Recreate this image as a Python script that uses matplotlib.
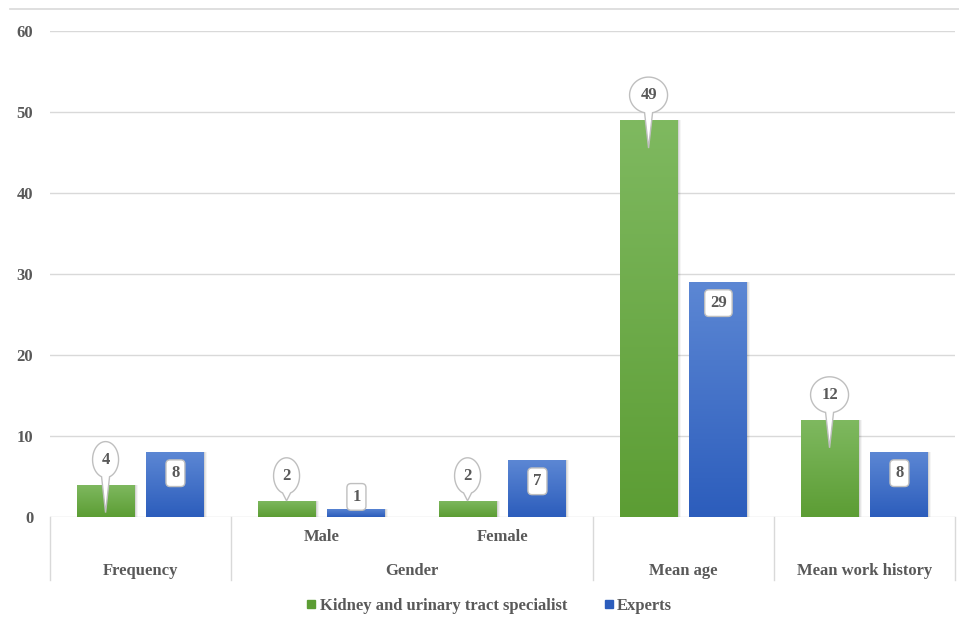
import numpy as np
import matplotlib
matplotlib.use("Agg")
import matplotlib.pyplot as plt
import matplotlib.transforms as mtransforms
from matplotlib.colors import LinearSegmentedColormap
from matplotlib.patches import Polygon, Rectangle
from matplotlib.lines import Line2D

# data
sub_labels = ["", "Male", "Female", "", ""]
top_labels = ["Frequency", "Gender", "Mean age", "Mean work history"]
top_spans = [(0, 0), (1, 2), (3, 3), (4, 4)]
specialist = [4, 2, 2, 49, 12]
experts = [8, 1, 7, 29, 8]
series_names = ["Kidney and urinary tract specialist", "Experts"]
yticks = [0, 10, 20, 30, 40, 50, 60]

GREEN_TOP, GREEN_BOT = "#7fb960", "#5c9d34"
BLUE_TOP, BLUE_BOT = "#5c87d4", "#2c5dbc"
TXT = "#595959"
GRID = "#d9d9d9"

plt.rcParams["font.family"] = ["Liberation Serif", "DejaVu Serif"]
plt.rcParams["font.weight"] = "bold"

fig = plt.figure(figsize=(9.59, 6.30), dpi=100)
W, H = 959, 630
ax_l, ax_r, ax_t, ax_b = 50, 955, 31, 517
ax = fig.add_axes([ax_l / W, 1 - ax_b / H, (ax_r - ax_l) / W, (ax_b - ax_t) / H])
axh = ax_b - ax_t

x = np.arange(len(specialist))
bw = 0.32
off = 0.193

ax.set_xlim(-0.5, len(x) - 0.5)
ax.set_ylim(0, 60)
ax.set_yticks(yticks)
ax.tick_params(axis="y", length=0, pad=12, labelsize=12, labelcolor=TXT)
ax.set_xticks([])
for s in ax.spines.values():
    s.set_visible(False)
ax.yaxis.grid(True, color=GRID, lw=1)
ax.set_axisbelow(True)


def grad_bar(xc, val, c_top, c_bot):
    cmap = LinearSegmentedColormap.from_list("g", [c_bot, c_top])
    # soft shadow to the right
    for k, al in [(3, 0.04), (2, 0.06), (1, 0.08)]:
        sh = mtransforms.ScaledTranslation(k, 0, mtransforms.IdentityTransform())
        ax.add_patch(Rectangle((xc - bw / 2, 0), bw, val, fc="#000000", alpha=al,
                               lw=0, transform=ax.transData + sh, zorder=1.5))
    rect = Rectangle((xc - bw / 2, 0), bw, val, fc="none", ec="none", zorder=2)
    ax.add_patch(rect)
    im = ax.imshow(np.linspace(0, 1, 256).reshape(-1, 1), cmap=cmap, origin="lower",
                   extent=(xc - bw / 2, xc + bw / 2, 0, val), aspect="auto", zorder=2)
    im.set_clip_path(rect)


for i in x:
    grad_bar(i - off, specialist[i], GREEN_TOP, GREEN_BOT)
    grad_bar(i + off, experts[i], BLUE_TOP, BLUE_BOT)

ax.set_xlim(-0.5, len(x) - 0.5)
ax.set_ylim(0, 60)

px_per_unit = axh / 60.0

# callout labels on green bars
for i in x:
    v = specialist[i]
    tr = mtransforms.ScaledTranslation(i - off, v, ax.transData)
    s = str(v)
    a = 13 if len(s) == 1 else 19
    b = 18
    cy = 25
    tip = -28 if v * px_per_unit > 28 else 0
    d = np.arcsin(4.0 / a)
    th = np.linspace(-np.pi / 2 + d, 3 * np.pi / 2 - d, 80)
    pts = np.column_stack([a * np.cos(th), cy + b * np.sin(th)])
    pts = np.vstack([pts, [0, tip]])
    poly = Polygon(pts, closed=True, fc="white", ec="#bfbfbf", lw=1,
                   transform=tr, zorder=5, clip_on=False)
    ax.add_patch(poly)
    ax.text(0, cy, s, transform=tr, ha="center", va="center", fontsize=12,
            color=TXT, zorder=6)

# boxed labels on blue bars
for i in x:
    v = experts[i]
    tr = mtransforms.ScaledTranslation(i + off, v, ax.transData)
    dy = -21 if v * px_per_unit > 42 else 12
    ax.text(0, dy, str(v), transform=tr, ha="center", va="center", fontsize=12,
            color=TXT, zorder=6,
            bbox=dict(boxstyle="round,pad=0.32,rounding_size=0.25", fc="white",
                      ec="#bfbfbf", lw=1))

# category axis
xt = ax.get_xaxis_transform()
for i, lab in enumerate(sub_labels):
    if lab:
        ax.text(i, -20 / axh, lab, transform=xt, ha="center", va="center",
                fontsize=12, color=TXT)
for lab, (a0, a1) in zip(top_labels, top_spans):
    ax.text((a0 + a1) / 2, -54 / axh, lab, transform=xt, ha="center", va="center",
            fontsize=12, color=TXT)
for xs in [-0.5, 0.5, 2.5, 3.5, 4.5]:
    ax.add_line(Line2D([xs, xs], [0, -63 / axh], transform=xt, color=GRID, lw=1,
                       clip_on=False))

# top border line
fig.add_artist(Line2D([10 / W, 1], [1 - 9 / H, 1 - 9 / H], color=GRID, lw=1.2))

# legend
handles = [Line2D([], [], marker="s", ls="none", ms=6, mfc=GREEN_BOT, mec=GREEN_BOT),
           Line2D([], [], marker="s", ls="none", ms=6, mfc=BLUE_BOT, mec=BLUE_BOT)]
fig.legend(handles, series_names, loc="center", bbox_to_anchor=(0.51, 1 - 606 / H),
           ncol=2, frameon=False, handlelength=0.6, handletextpad=0.2,
           columnspacing=2.2, prop=dict(size=12, weight="bold"), labelcolor=TXT)

fig.savefig("out.png", dpi=100)
